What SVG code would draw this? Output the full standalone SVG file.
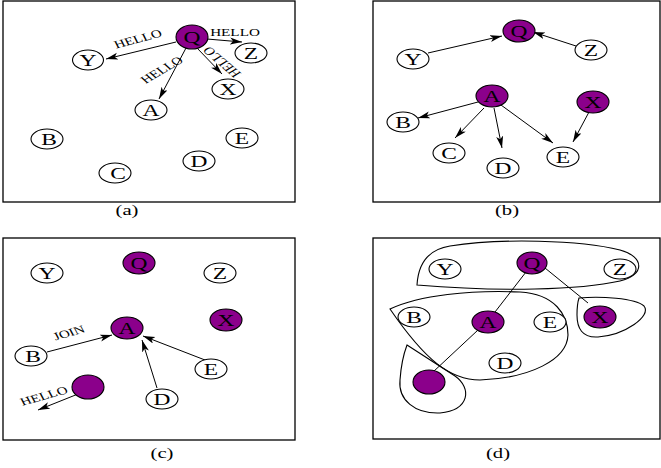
<svg xmlns="http://www.w3.org/2000/svg" width="661" height="468" viewBox="0 0 661 468">
<style>
.frame{fill:none;stroke:#000;stroke-width:1.3}
.w{fill:#fff;stroke:#000;stroke-width:1.1}
.p{fill:#8b008b;stroke:#000;stroke-width:1.1}
.n{font-family:"Liberation Serif","Times New Roman",serif;font-size:17px;text-anchor:middle;fill:#000}
.s{font-family:"Liberation Serif","Times New Roman",serif;font-size:11px;text-anchor:middle;fill:#000}
.cap{font-family:"Liberation Serif","Times New Roman",serif;font-size:15px;text-anchor:middle;fill:#000}
.e{fill:none;stroke:#000;stroke-width:1}
.a{marker-end:url(#ah)}
.g{fill:none;stroke:#000;stroke-width:1.1}
</style>
<defs>
<marker id="ah" markerUnits="userSpaceOnUse" markerWidth="13" markerHeight="8" refX="12" refY="3.5" orient="auto">
<path d="M0,0 L12,3.5 L0,7 L3,3.5 Z" fill="#000"/>
</marker>
</defs>
<rect width="661" height="468" fill="#fff"/>
<!-- frames -->
<g id="frames">
<rect class="frame" x="3" y="1" width="292" height="201"/>
<rect class="frame" x="373" y="1" width="287" height="201"/>
<rect class="frame" x="3" y="238" width="292" height="202"/>
<rect class="frame" x="373" y="238" width="287" height="201"/>
<text class="cap" transform="translate(127 215) scale(1.38 1)">(a)</text>
<text class="cap" transform="translate(507 215) scale(1.38 1)">(b)</text>
<text class="cap" transform="translate(162 458) scale(1.38 1)">(c)</text>
<text class="cap" transform="translate(498 458) scale(1.38 1)">(d)</text>
</g>
<!-- group outlines (d) -->
<g id="groups">
<path class="g" d="M417,285 C418,268 425,250 450,246 C500,238 580,240 620,250 C645,257 645,275 620,281 C580,290 500,292 417,285 Z"/>
<path class="g" d="M390,309 C420,295 470,290 520,292 C555,294 568,315 568,335 C567,360 530,378 480,380 C450,380 425,360 390,309 Z"/>
<path class="g" d="M579,298 C600,296 635,298 644,306 C652,316 625,335 598,337 C582,338 577,328 577,315 C577,306 578,301 579,298 Z"/>
<path class="g" d="M407,345 L455,376 C472,388 470,410 440,413 C415,414 398,400 400,380 C401,365 404,353 407,345 Z"/>
</g>
<!-- connectors -->
<g id="connectors">
<line class="e a" x1="176" y1="42" x2="106" y2="59"/>
<line class="e a" x1="186" y1="48" x2="159" y2="99"/>
<line class="e a" x1="207" y1="39" x2="242" y2="42"/>
<line class="e a" x1="197" y1="48" x2="222" y2="74"/>
<text class="s" transform="translate(138 39) scale(1.38 1) rotate(-20)" y="3.5">HELLO</text>
<text class="s" transform="translate(162 70) scale(1.38 1) rotate(-39)" y="3.5">HELLO</text>
<text class="s" transform="translate(235 36) scale(1.38 1)">HELLO</text>
<text class="s" transform="translate(222 62) scale(1.38 1) rotate(-130)" y="3.5">HELLO</text>

<line class="e a" x1="428" y1="53" x2="502" y2="36"/>
<line class="e a" x1="576" y1="46" x2="533" y2="32"/>
<line class="e a" x1="478" y1="102" x2="418" y2="118"/>
<line class="e a" x1="484" y1="108" x2="455" y2="138"/>
<line class="e a" x1="494" y1="108" x2="502" y2="148"/>
<line class="e a" x1="501" y1="105" x2="553" y2="143"/>
<line class="e a" x1="589" y1="112" x2="573" y2="142"/>

<line class="e a" x1="47" y1="352" x2="112" y2="335"/>
<line class="e a" x1="205" y1="360" x2="143" y2="336"/>
<line class="e a" x1="157" y1="388" x2="142" y2="340"/>
<line class="e a" x1="78" y1="394" x2="38" y2="410"/>
<text class="s" transform="translate(69 333) scale(1.38 1) rotate(-21)" y="3.5">JOIN</text>
<text class="s" transform="translate(44 396) scale(1.38 1) rotate(-21)" y="3.5">HELLO</text>

<line class="e" x1="526" y1="272" x2="495" y2="312"/>
<line class="e" x1="545" y1="268" x2="588" y2="303"/>
<line class="e" x1="478" y1="330" x2="433" y2="372"/>
</g>
<!-- panel a nodes -->
<g id="a-Q"><ellipse class="p" cx="192" cy="37" rx="16" ry="12"/><text class="n" transform="translate(192 42.6) scale(1.38 1)">Q</text></g>
<g id="a-Y"><ellipse class="w" cx="88" cy="60" rx="15.5" ry="10"/><text class="n" transform="translate(88 65.6) scale(1.38 1)">Y</text></g>
<g id="a-Z"><ellipse class="w" cx="251" cy="53" rx="16" ry="10"/><text class="n" transform="translate(251 58.6) scale(1.38 1)">Z</text></g>
<g id="a-X"><ellipse class="w" cx="228" cy="89" rx="16" ry="10"/><text class="n" transform="translate(228 94.6) scale(1.38 1)">X</text></g>
<g id="a-A"><ellipse class="w" cx="151" cy="110" rx="16" ry="10"/><text class="n" transform="translate(151 115.6) scale(1.38 1)">A</text></g>
<g id="a-B"><ellipse class="w" cx="47" cy="139" rx="16" ry="10"/><text class="n" transform="translate(49 144.6) scale(1.38 1)">B</text></g>
<g id="a-C"><ellipse class="w" cx="115" cy="173" rx="16" ry="10"/><text class="n" transform="translate(118 178.6) scale(1.38 1)">C</text></g>
<g id="a-D"><ellipse class="w" cx="199" cy="161" rx="16" ry="10"/><text class="n" transform="translate(199 166.6) scale(1.38 1)">D</text></g>
<g id="a-E"><ellipse class="w" cx="242" cy="138" rx="16" ry="10"/><text class="n" transform="translate(242 143.6) scale(1.38 1)">E</text></g>
<!-- panel b nodes -->
<g id="b-Q"><ellipse class="p" cx="519" cy="31" rx="16" ry="11"/><text class="n" transform="translate(519 36.6) scale(1.38 1)">Q</text></g>
<g id="b-Y"><ellipse class="w" cx="413" cy="59" rx="16" ry="10"/><text class="n" transform="translate(413 64.6) scale(1.38 1)">Y</text></g>
<g id="b-Z"><ellipse class="w" cx="591" cy="50" rx="16" ry="10"/><text class="n" transform="translate(591 55.6) scale(1.38 1)">Z</text></g>
<g id="b-A"><ellipse class="p" cx="492" cy="96" rx="16" ry="11"/><text class="n" transform="translate(492 101.6) scale(1.38 1)">A</text></g>
<g id="b-X"><ellipse class="p" cx="593" cy="102" rx="16" ry="11"/><text class="n" transform="translate(593 107.6) scale(1.38 1)">X</text></g>
<g id="b-B"><ellipse class="w" cx="403" cy="122" rx="16" ry="10"/><text class="n" transform="translate(403 127.6) scale(1.38 1)">B</text></g>
<g id="b-C"><ellipse class="w" cx="449" cy="153" rx="16" ry="10"/><text class="n" transform="translate(449 158.6) scale(1.38 1)">C</text></g>
<g id="b-D"><ellipse class="w" cx="503" cy="168" rx="16" ry="10"/><text class="n" transform="translate(503 173.6) scale(1.38 1)">D</text></g>
<g id="b-E"><ellipse class="w" cx="563" cy="157" rx="16" ry="10"/><text class="n" transform="translate(563 162.6) scale(1.38 1)">E</text></g>
<!-- panel c nodes -->
<g id="c-Y"><ellipse class="w" cx="47" cy="273" rx="16" ry="10"/><text class="n" transform="translate(47 278.6) scale(1.38 1)">Y</text></g>
<g id="c-Q"><ellipse class="p" cx="139" cy="263" rx="16" ry="11"/><text class="n" transform="translate(139 268.6) scale(1.38 1)">Q</text></g>
<g id="c-Z"><ellipse class="w" cx="220" cy="273" rx="16" ry="10"/><text class="n" transform="translate(220 278.6) scale(1.38 1)">Z</text></g>
<g id="c-X"><ellipse class="p" cx="226" cy="320" rx="16" ry="11"/><text class="n" transform="translate(226 325.6) scale(1.38 1)">X</text></g>
<g id="c-A"><ellipse class="p" cx="127" cy="328" rx="16" ry="11"/><text class="n" transform="translate(127 333.6) scale(1.38 1)">A</text></g>
<g id="c-B"><ellipse class="w" cx="31" cy="356" rx="16" ry="10"/><text class="n" transform="translate(33 361.6) scale(1.38 1)">B</text></g>
<g id="c-E"><ellipse class="w" cx="211" cy="369" rx="16" ry="10"/><text class="n" transform="translate(211 374.6) scale(1.38 1)">E</text></g>
<g id="c-D"><ellipse class="w" cx="162" cy="399" rx="16" ry="10"/><text class="n" transform="translate(162 404.6) scale(1.38 1)">D</text></g>
<g id="c-P"><ellipse class="p" cx="88" cy="387" rx="16" ry="12"/></g>
<!-- panel d nodes -->
<g id="d-Y"><ellipse class="w" cx="445" cy="269" rx="16" ry="10"/><text class="n" transform="translate(445 274.6) scale(1.38 1)">Y</text></g>
<g id="d-Q"><ellipse class="p" cx="532" cy="263" rx="15" ry="11"/><text class="n" transform="translate(532 268.6) scale(1.38 1)">Q</text></g>
<g id="d-Z"><ellipse class="w" cx="620" cy="269" rx="16" ry="10"/><text class="n" transform="translate(620 274.6) scale(1.38 1)">Z</text></g>
<g id="d-B"><ellipse class="w" cx="414" cy="317" rx="16" ry="10"/><text class="n" transform="translate(414 322.6) scale(1.38 1)">B</text></g>
<g id="d-A"><ellipse class="p" cx="488" cy="322" rx="16" ry="11"/><text class="n" transform="translate(488 327.6) scale(1.38 1)">A</text></g>
<g id="d-E"><ellipse class="w" cx="550" cy="322" rx="16" ry="10"/><text class="n" transform="translate(550 327.6) scale(1.38 1)">E</text></g>
<g id="d-X"><ellipse class="p" cx="600" cy="317" rx="16" ry="11"/><text class="n" transform="translate(600 322.6) scale(1.38 1)">X</text></g>
<g id="d-D"><ellipse class="w" cx="505" cy="363" rx="16" ry="10"/><text class="n" transform="translate(505 368.6) scale(1.38 1)">D</text></g>
<g id="d-P"><ellipse class="p" cx="429" cy="382" rx="16" ry="12"/></g>
</svg>
